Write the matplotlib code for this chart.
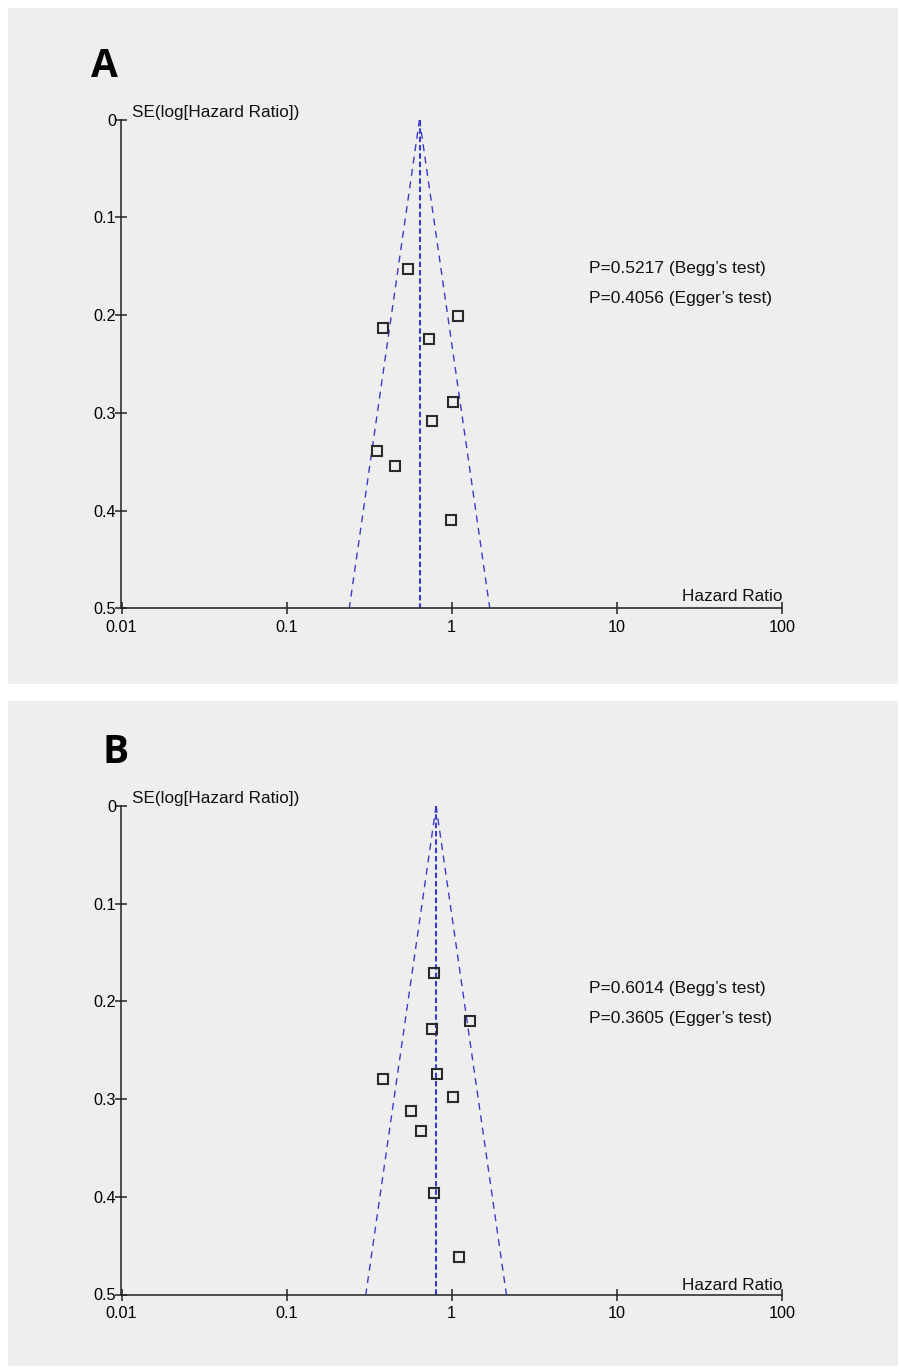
import numpy as np
import matplotlib.pyplot as plt
from matplotlib.patches import Rectangle

# panel A data
hr_a = [0.542, 1.089, 0.383, 0.733, 1.024, 0.754, 0.352, 0.456, 0.992]
se_a = [0.153, 0.201, 0.2135, 0.2245, 0.289, 0.3086, 0.339, 0.354, 0.4095]
pooled_a = 0.638
ptext_a = ["P=0.5217 (Begg\u2019s test)", "P=0.4056 (Egger\u2019s test)"]

# panel B data
hr_b = [0.786, 1.292, 0.758, 0.819, 0.383, 1.024, 0.568, 0.650, 0.786, 1.113]
se_b = [0.171, 0.220, 0.228, 0.274, 0.279, 0.298, 0.312, 0.333, 0.396, 0.462]
pooled_b = 0.804
ptext_b = ["P=0.6014 (Begg\u2019s test)", "P=0.3605 (Egger\u2019s test)"]

xticks = [0.01, 0.1, 1, 10, 100]
xticklabels = ["0.01", "0.1", "1", "10", "100"]
yticks = [0, 0.1, 0.2, 0.3, 0.4, 0.5]
yticklabels = ["0", "0.1", "0.2", "0.3", "0.4", "0.5"]

W, H = 899, 1369
BLUE = "#3b3bcc"
DARK = "#222222"
narrow = ["Liberation Sans Narrow", "Liberation Sans", "DejaVu Sans"]
sans = ["Liberation Sans", "DejaVu Sans"]

fig = plt.figure(figsize=(W / 100, H / 100), dpi=100)
fig.patch.set_facecolor("white")


def fx(x):
    return x / W


def fy(y):
    return 1 - y / H


def panel(top, bot, y0, y5, hr, se, pooled, ptext, letter, lx, lby, ylab_by, hr_by, p_by):
    fig.patches.append(Rectangle((fx(8), fy(bot)), fx(898) - fx(8), fy(top) - fy(bot),
                                 transform=fig.transFigure, facecolor="#eeeeee",
                                 edgecolor="none", zorder=-5))
    ax = fig.add_axes([fx(121.5), fy(y5), fx(782) - fx(121.5), fy(y0) - fy(y5)])
    ax.set_facecolor("none")
    ax.set_xscale("log")
    ax.set_xlim(0.01, 100)
    ax.set_ylim(0.5, 0)

    # funnel (pseudo 95% limits)
    s = np.array([0, 0.5])
    ax.plot(pooled * np.exp(-1.96 * s), s, color=BLUE, lw=1.0, dashes=(5, 4))
    ax.plot(pooled * np.exp(1.96 * s), s, color=BLUE, lw=1.0, dashes=(5, 4))
    ax.plot([pooled, pooled], [0, 0.5], color=BLUE, lw=1.5, dashes=(2.6, 1.4))

    ax.plot(hr, se, ls="none", marker="s", markersize=7.8, mfc="none",
            mec="#2a2a2a", mew=1.5, zorder=5)

    for side in ["top", "right"]:
        ax.spines[side].set_visible(False)
    for side in ["left", "bottom"]:
        ax.spines[side].set_color(DARK)
        ax.spines[side].set_linewidth(1.1)

    ax.set_xticks(xticks)
    ax.set_xticklabels(xticklabels, fontfamily=narrow, fontsize=11.7)
    ax.minorticks_off()
    ax.set_yticks(yticks)
    ax.set_yticklabels(yticklabels, fontfamily=narrow, fontsize=11.7)
    ax.tick_params(direction="inout", length=8, width=1.1, color=DARK)
    ax.tick_params(axis="x", pad=4)
    ax.tick_params(axis="y", pad=0)

    fig.text(fx(lx), fy(lby), letter, fontsize=28, fontweight="bold",
             fontfamily=["Open Sans", "DejaVu Sans"], va="baseline")
    fig.text(fx(131.5), fy(ylab_by), "SE(log[Hazard Ratio])", fontsize=12.3,
             fontfamily=sans, va="baseline", color="#111111")
    fig.text(fx(782), fy(hr_by), "Hazard Ratio", fontsize=12.3,
             fontfamily=sans, va="baseline", ha="right", color="#111111")
    for t, b in zip(ptext, p_by):
        fig.text(fx(589), fy(b), t, fontsize=12.5, fontfamily=sans,
                 va="baseline", color="#111111")
    return ax


panel(8, 684, 119.5, 608.5, hr_a, se_a, pooled_a, ptext_a, "A", 91, 77,
      116.5, 601, [273.3, 303.3])
panel(701, 1366, 806, 1294.5, hr_b, se_b, pooled_b, ptext_b, "B", 102, 763,
      803.5, 1290, [993.3, 1023.3])

fig.savefig("out.png", dpi=100)
